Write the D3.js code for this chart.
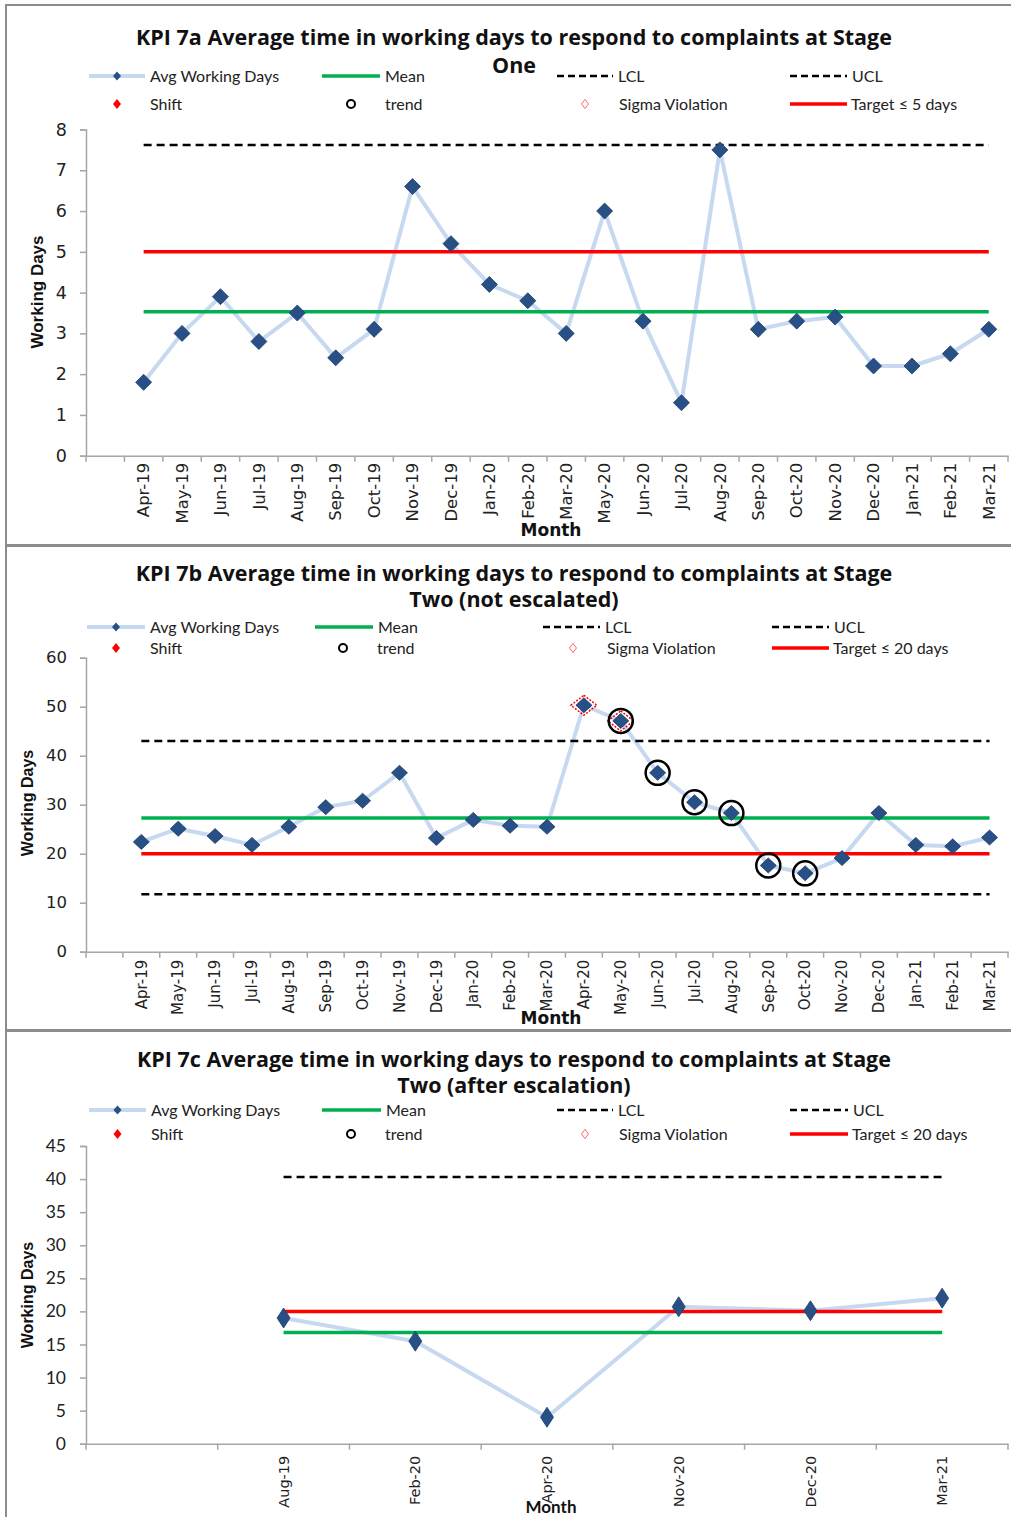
<!DOCTYPE html>
<html>
<head>
<meta charset="utf-8">
<script src="https://cdn.jsdelivr.net/npm/d3@7"></script>
<style>
  body { margin: 0; background: #fff; }
  svg { display: block; }
</style>
</head>
<body>
<div class="svg-container"></div>
<script>
// ---- data ----
const months7a = ["Apr-19","May-19","Jun-19","Jul-19","Aug-19","Sep-19","Oct-19","Nov-19","Dec-19","Jan-20","Feb-20","Mar-20","May-20","Jun-20","Jul-20","Aug-20","Sep-20","Oct-20","Nov-20","Dec-20","Jan-21","Feb-21","Mar-21"];
const days7a = [1.8,3.0,3.9,2.8,3.5,2.4,3.1,6.6,5.2,4.2,3.8,3.0,6.0,3.3,1.3,7.5,3.1,3.3,3.4,2.2,2.2,2.5,3.1];
const mean7a = 3.53;
const ucl7a = 7.62;
const target7a = 5;

const months7b = ["Apr-19","May-19","Jun-19","Jul-19","Aug-19","Sep-19","Oct-19","Nov-19","Dec-19","Jan-20","Feb-20","Mar-20","Apr-20","May-20","Jun-20","Jul-20","Aug-20","Sep-20","Oct-20","Nov-20","Dec-20","Jan-21","Feb-21","Mar-21"];
const days7b = [22.4,25.1,23.6,21.8,25.5,29.5,30.8,36.5,23.2,26.9,25.7,25.5,50.3,47.1,36.5,30.5,28.3,17.6,16.0,19.1,28.3,21.8,21.5,23.3];
const mean7b = 27.3;
const ucl7b = 43.0;
const lcl7b = 11.7;
const target7b = 20;
const trend7b = ["May-20","Jun-20","Jul-20","Aug-20","Sep-20","Oct-20"];
const sigma7b = ["Apr-20","May-20"];

const months7c = ["Aug-19","Feb-20","Apr-20","Nov-20","Dec-20","Mar-21"];
const days7c = [19.0,15.5,4.0,20.7,20.1,22.0];
const mean7c = 16.8;
const ucl7c = 40.3;
const target7c = 20;

const legendLabels = ["Avg Working Days","Mean","LCL","UCL","Shift","trend","Sigma Violation"];

const W = 1011, H = 1517;
const BLUE = "#284f86", LIGHT = "#c6d9f0", GREEN = "#00b050", RED = "#ff0000";
const NARROW = "Lato, 'Open Sans', sans-serif";
const TITLE = "'Open Sans', Lato, sans-serif";
const WIDE = "'DejaVu Sans', Verdana, sans-serif";

const svg = d3.select(".svg-container").append("svg")
  .attr("width", W).attr("height", H);

function diamond(rx, ry) {
  return `M0,${-ry}L${rx},0L0,${ry}L${-rx},0Z`;
}

function drawPanel(p) {
  const g = svg.append("g");

  // frame
  g.append("rect").attr("x", 6).attr("y", p.top).attr("width", W + 20)
    .attr("height", p.bottom - p.top).attr("fill", "none")
    .attr("stroke", "#8c8c8c").attr("stroke-width", 2);

  // title
  p.title.forEach((t, i) => {
    g.append("text").attr("x", 514).attr("y", p.titleY[i])
      .attr("text-anchor", "middle").attr("font-family", TITLE)
      .attr("font-weight", "bold").attr("font-size", p.titleSize)
      .attr("fill", "#111").text(t);
  });

  // legend
  const lg = g.append("g").attr("font-family", NARROW).attr("font-size", 16).attr("fill", "#222");
  const r1 = p.legY[0], r2 = p.legY[1], L = p.legX;
  const item = (x1, x2, y, style) => {
    const ln = lg.append("line").attr("x1", x1).attr("x2", x2).attr("y1", y).attr("y2", y);
    style(ln);
  };
  item(L[0][0], L[0][1], r1, l => l.attr("stroke", LIGHT).attr("stroke-width", 4));
  lg.append("path").attr("d", diamond(4, 4.5)).attr("fill", BLUE)
    .attr("transform", `translate(${(L[0][0] + L[0][1]) / 2},${r1})`);
  item(L[1][0], L[1][1], r1, l => l.attr("stroke", GREEN).attr("stroke-width", 3.5));
  item(L[2][0], L[2][1], r1, l => l.attr("stroke", "#000").attr("stroke-width", 2.5).attr("stroke-dasharray", "7,4"));
  item(L[3][0], L[3][1], r1, l => l.attr("stroke", "#000").attr("stroke-width", 2.5).attr("stroke-dasharray", "7,4"));
  item(L[3][0], L[3][1], r2, l => l.attr("stroke", RED).attr("stroke-width", 3.5));
  lg.append("path").attr("d", diamond(4, 5)).attr("fill", RED)
    .attr("transform", `translate(${(L[0][0] + L[0][1]) / 2},${r2})`);
  lg.append("circle").attr("cx", p.trendX).attr("cy", r2).attr("r", 4)
    .attr("fill", "none").attr("stroke", "#000").attr("stroke-width", 2);
  lg.append("path").attr("d", diamond(3.5, 4.5)).attr("fill", "none")
    .attr("stroke", RED).attr("stroke-width", 1).attr("stroke-dasharray", "1.5,1")
    .attr("transform", `translate(${p.sigmaX},${r2})`);
  const texts = [
    [L[0][1] + 5, r1, legendLabels[0]], [L[1][1] + 5, r1, legendLabels[1]],
    [L[2][1] + 5, r1, legendLabels[2]], [L[3][1] + 5, r1, legendLabels[3]],
    [L[0][1] + 5, r2, legendLabels[4]], [p.trendX + 34, r2, legendLabels[5]],
    [p.sigmaX + 34, r2, legendLabels[6]], [L[3][1] + 4, r2, p.targetLabel]
  ];
  texts.forEach(([x, y, t]) => {
    lg.append("text").attr("x", x).attr("y", y).attr("dy", "0.35em").text(t);
  });

  // scales
  const x = d3.scaleBand().domain(["", ...p.months]).range([86, 1008]).padding(0);
  const y = d3.scaleLinear().domain([0, p.yMax]).range([p.y0, p.yTop]);
  const cx = d => x(d) + x.bandwidth() / 2;

  // y axis
  const yAxis = g.append("g").attr("transform", "translate(86,0)")
    .call(d3.axisLeft(y).tickValues(d3.range(0, p.yMax + 0.001, p.yStep)).tickSize(6).tickPadding(p.yPad));
  yAxis.select(".domain").attr("stroke", "#a6a6a6").attr("stroke-width", 1.5);
  yAxis.selectAll(".tick line").attr("stroke", "#a6a6a6").attr("stroke-width", 1.5);
  yAxis.selectAll(".tick text").attr("font-family", p.yFont).attr("font-size", p.yFontSize).attr("fill", "#222");

  // x axis: labels between tick marks
  const xAxis = g.append("g").attr("transform", `translate(0,${p.y0})`)
    .call(d3.axisBottom(x).tickValues(p.months).tickSize(0).tickSizeOuter(0));
  xAxis.select(".domain").attr("stroke", "#a6a6a6").attr("stroke-width", 1.5);
  xAxis.selectAll(".tick text")
    .attr("font-family", WIDE).attr("font-size", p.xFontSize).attr("fill", "#222")
    .attr("transform", "rotate(-90)").attr("text-anchor", "end")
    .attr("x", -p.xPad).attr("y", 0).attr("dy", "0.35em");
  xAxis.selectAll(".edge").data([...x.domain().map(d => x(d)), 1008]).enter()
    .append("line").attr("class", "edge")
    .attr("x1", d => d).attr("x2", d => d).attr("y1", 0).attr("y2", 6)
    .attr("stroke", "#a6a6a6").attr("stroke-width", 1.5);

  // axis titles
  g.append("text").attr("x", 551).attr("y", p.monthY).attr("text-anchor", "middle")
    .attr("font-family", p.monthFont).attr("font-weight", "bold")
    .attr("font-size", 17).attr("fill", "#111").text("Month");
  g.append("text").attr("transform", `translate(${p.wdX},${p.wdY}) rotate(-90)`)
    .attr("text-anchor", "middle").attr("dy", "0.35em")
    .attr("font-family", "'Liberation Sans', Arial, sans-serif").attr("font-weight", "bold")
    .attr("font-size", p.wdSize).attr("fill", "#111").text("Working Days");

  const xs = cx(p.months[0]), xe = cx(p.months[p.months.length - 1]);
  const hline = (v, color, w, dash) => {
    const ln = g.append("line").attr("x1", xs).attr("x2", xe)
      .attr("y1", y(v)).attr("y2", y(v)).attr("stroke", color).attr("stroke-width", w);
    if (dash) ln.attr("stroke-dasharray", dash);
  };

  // data line
  const pts = p.months.map((m, i) => [cx(m), y(p.values[i])]);
  g.append("path").attr("d", d3.line()(pts)).attr("fill", "none")
    .attr("stroke", LIGHT).attr("stroke-width", 4).attr("stroke-linejoin", "round");

  if (p.ucl != null) hline(p.ucl, "#000", 2.5, "8,5");
  if (p.lcl != null) hline(p.lcl, "#000", 2.5, "8,5");
  hline(p.mean, GREEN, 3.5);
  hline(p.target, RED, 3.5);

  // markers
  g.selectAll(".pt").data(p.months).enter().append("path").attr("class", "pt")
    .attr("d", diamond(p.mrx, p.mry)).attr("fill", BLUE)
    .attr("stroke", "#1d3d6b").attr("stroke-width", 0.8)
    .attr("transform", (d, i) => `translate(${cx(d)},${y(p.values[i])})`);

  const valOf = m => p.values[p.months.indexOf(m)];
  g.selectAll(".sig").data(p.sigma || []).enter().append("path").attr("class", "sig")
    .attr("d", diamond(13, 10)).attr("fill", "none").attr("stroke", RED)
    .attr("stroke-width", 1.5).attr("stroke-dasharray", "2,1.5")
    .attr("transform", d => `translate(${cx(d)},${y(valOf(d))})`);
  g.selectAll(".trd").data(p.trend || []).enter().append("circle").attr("class", "trd")
    .attr("cx", d => cx(d)).attr("cy", d => y(valOf(d))).attr("r", 12)
    .attr("fill", "none").attr("stroke", "#000").attr("stroke-width", 2.5);
}

drawPanel({
  top: 5, bottom: 545,
  title: ["KPI 7a Average time in working days to respond to complaints at Stage", "One"],
  titleY: [45, 73], titleSize: 21.5,
  legY: [76, 104], legX: [[89, 145], [322, 380], [557, 613], [790, 847]],
  trendX: 351, sigmaX: 585, targetLabel: "Target \u2264 5 days",
  months: months7a, values: days7a, mean: mean7a, ucl: ucl7a, lcl: null, target: target7a,
  yMax: 8, yStep: 1, y0: 455.7, yTop: 129.5, yFont: WIDE, yFontSize: 17.5, yPad: 13,
  xFontSize: 16.5, xPad: 7, monthY: 536, monthFont: WIDE, wdX: 37, wdY: 292, wdSize: 17,
  mrx: 8, mry: 8
});

drawPanel({
  top: 546, bottom: 1030,
  title: ["KPI 7b Average time in working days to respond to complaints at Stage", "Two (not escalated)"],
  titleY: [581, 607], titleSize: 21.5,
  legY: [627, 648], legX: [[87, 145], [315, 373], [543, 600], [772, 829]],
  trendX: 343, sigmaX: 573, targetLabel: "Target \u2264 20 days",
  months: months7b, values: days7b, mean: mean7b, ucl: ucl7b, lcl: lcl7b, target: target7b,
  trend: trend7b, sigma: sigma7b,
  yMax: 60, yStep: 10, y0: 951.7, yTop: 657.7, yFont: WIDE, yFontSize: 16.5, yPad: 13,
  xFontSize: 15, xPad: 8, monthY: 1024, monthFont: WIDE, wdX: 27, wdY: 803, wdSize: 16,
  mrx: 8, mry: 7.5
});

drawPanel({
  top: 1031, bottom: 1540,
  title: ["KPI 7c Average time in working days to respond to complaints at Stage", "Two (after escalation)"],
  titleY: [1067, 1093], titleSize: 21.5,
  legY: [1110, 1134], legX: [[89, 146], [322, 381], [557, 613], [790, 848]],
  trendX: 351, sigmaX: 585, targetLabel: "Target \u2264 20 days",
  months: months7c, values: days7c, mean: mean7c, ucl: ucl7c, lcl: null, target: target7c,
  yMax: 45, yStep: 5, y0: 1443.7, yTop: 1146, yFont: NARROW, yFontSize: 17.5, yPad: 14,
  xFontSize: 14.5, xPad: 12, monthY: 1513, monthFont: NARROW, wdX: 27, wdY: 1295, wdSize: 16,
  mrx: 6.5, mry: 10
});
</script>
</body>
</html>
